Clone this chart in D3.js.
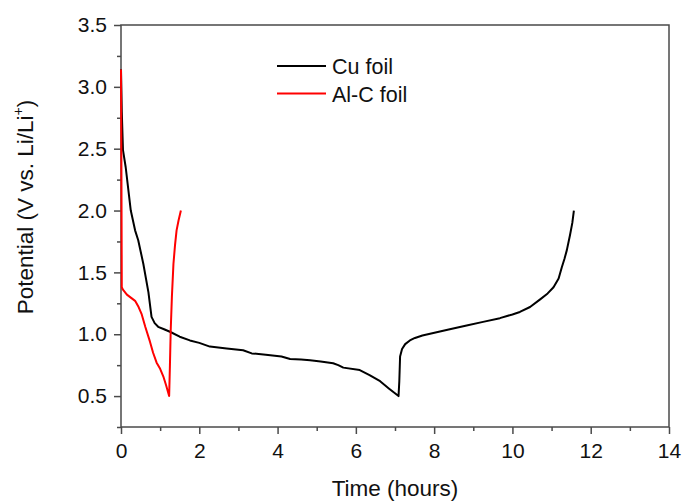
<!DOCTYPE html>
<html>
<head>
<meta charset="utf-8">
<script src="https://cdn.jsdelivr.net/npm/d3@7"></script>
<style>
  html, body { margin: 0; padding: 0; background: #fff; }
  svg { display: block; font-family: "Liberation Sans", Arial, sans-serif; }
</style>
</head>
<body>
<svg id="chart" width="682" height="503"></svg>
<script>
// Galvanostatic potential profiles: Time (hours) vs Potential (V vs. Li/Li+)
const cuTime = [0.00, 0.02, 0.05, 0.12, 0.25, 0.36, 0.44, 0.57, 0.70, 0.78, 0.86, 0.95, 1.10, 1.25, 1.50, 1.76, 2.00, 2.27, 2.70, 3.12, 3.34, 3.70, 4.10, 4.32, 4.60, 4.83, 5.10, 5.42, 5.55, 5.68, 6.10, 6.35, 6.62, 6.85, 7.09, 7.11, 7.13, 7.18, 7.26, 7.38, 7.51, 7.70, 7.98, 8.40, 8.83, 9.25, 9.68, 10.00, 10.19, 10.45, 10.70, 10.90, 11.05, 11.18, 11.26, 11.33, 11.39, 11.47, 11.53, 11.57];
const cuPotential = [3.14, 2.80, 2.49, 2.35, 2.00, 1.84, 1.76, 1.57, 1.34, 1.14, 1.09, 1.06, 1.04, 1.02, 0.98, 0.95, 0.93, 0.90, 0.885, 0.87, 0.845, 0.835, 0.82, 0.80, 0.795, 0.79, 0.78, 0.765, 0.75, 0.73, 0.71, 0.67, 0.62, 0.56, 0.50, 0.62, 0.82, 0.88, 0.92, 0.95, 0.97, 0.99, 1.01, 1.04, 1.07, 1.10, 1.13, 1.16, 1.18, 1.22, 1.28, 1.33, 1.38, 1.45, 1.54, 1.61, 1.68, 1.80, 1.90, 2.00];

const alcTime = [0.00, 0.01, 0.02, 0.05, 0.15, 0.36, 0.45, 0.53, 0.62, 0.74, 0.82, 0.91, 1.00, 1.08, 1.15, 1.23, 1.25, 1.27, 1.30, 1.34, 1.38, 1.42, 1.47, 1.53];
const alcPotential = [3.14, 2.40, 1.38, 1.36, 1.32, 1.27, 1.22, 1.16, 1.06, 0.94, 0.85, 0.77, 0.72, 0.66, 0.59, 0.50, 0.75, 1.03, 1.30, 1.57, 1.72, 1.84, 1.92, 2.00];

const seriesNames = ["Cu foil", "Al-C foil"];
const seriesColors = ["#000000", "#ff0000"];

const xTicks = [0, 2, 4, 6, 8, 10, 12, 14];
const xMinorTicks = [1, 3, 5, 7, 9, 11, 13];
const yTicks = [0.5, 1.0, 1.5, 2.0, 2.5, 3.0, 3.5];
const yMinorTicks = [0.25, 0.75, 1.25, 1.75, 2.25, 2.75, 3.25];

const svg = d3.select("#chart");
const plotLeft = 121, plotRight = 669, plotTop = 25, plotBottom = 427;

const x = d3.scaleLinear().domain([0, 14]).range([plotLeft, plotRight]);
const y = d3.scaleLinear().domain([0.25, 3.5]).range([plotBottom, plotTop]);

const axisColor = "#4a4a4a";
const textColor = "#111";

// frame
svg.append("rect")
  .attr("x", plotLeft).attr("y", plotTop)
  .attr("width", plotRight - plotLeft).attr("height", plotBottom - plotTop)
  .attr("fill", "none").attr("stroke", axisColor).attr("stroke-width", 1.5);

// bottom axis
svg.append("g").attr("transform", `translate(0,${plotBottom})`)
  .call(d3.axisBottom(x).tickValues(xTicks).tickSize(7).tickPadding(9).tickFormat(d3.format("d")));
svg.append("g").attr("transform", `translate(0,${plotBottom})`)
  .call(d3.axisBottom(x).tickValues(xMinorTicks).tickSize(4).tickFormat(""));

// left axis
svg.append("g").attr("transform", `translate(${plotLeft},0)`)
  .call(d3.axisLeft(y).tickValues(yTicks).tickSize(7).tickPadding(7).tickFormat(d3.format(".1f")));
svg.append("g").attr("transform", `translate(${plotLeft},0)`)
  .call(d3.axisLeft(y).tickValues(yMinorTicks).tickSize(4).tickFormat(""));

svg.selectAll(".domain").remove();
svg.selectAll(".tick line").attr("stroke", axisColor).attr("stroke-width", 1.5);
svg.selectAll(".tick text").attr("fill", textColor)
  .attr("font-size", null).attr("font-family", null)
  .style("font-size", "21px")
  .style("font-family", "'Liberation Sans', Arial, sans-serif");

// axis titles
svg.append("text")
  .attr("x", (plotLeft + plotRight) / 2).attr("y", 496)
  .attr("text-anchor", "middle").attr("fill", textColor)
  .style("font-size", "22.5px")
  .text("Time (hours)");

const yTitle = svg.append("text")
  .attr("transform", "translate(33,207) rotate(-90)")
  .attr("text-anchor", "middle").attr("fill", textColor)
  .style("font-size", "22.5px");
yTitle.append("tspan").text("Potential (V vs. Li/Li");
yTitle.append("tspan").attr("dy", -10).style("font-size", "14px").text("+");
yTitle.append("tspan").attr("dy", 10).text(")");

// curves
const line = d3.line().x(d => x(d[0])).y(d => y(d[1]));
const cuData = d3.zip(cuTime, cuPotential);
const alcData = d3.zip(alcTime, alcPotential);

svg.append("path").datum(cuData)
  .attr("d", line).attr("fill", "none")
  .attr("stroke", seriesColors[0]).attr("stroke-width", 2).attr("stroke-linejoin", "round");
svg.append("path").datum(alcData)
  .attr("d", line).attr("fill", "none")
  .attr("stroke", seriesColors[1]).attr("stroke-width", 2).attr("stroke-linejoin", "round");

// legend
const legend = svg.append("g");
seriesNames.forEach((name, i) => {
  const ly = 66 + i * 27.5;
  legend.append("line")
    .attr("x1", 277).attr("x2", 326).attr("y1", ly).attr("y2", ly)
    .attr("stroke", seriesColors[i]).attr("stroke-width", 2);
  legend.append("text")
    .attr("x", 332).attr("y", ly + 8)
    .attr("fill", textColor).style("font-size", "21.5px")
    .text(name);
});
</script>
</body>
</html>
